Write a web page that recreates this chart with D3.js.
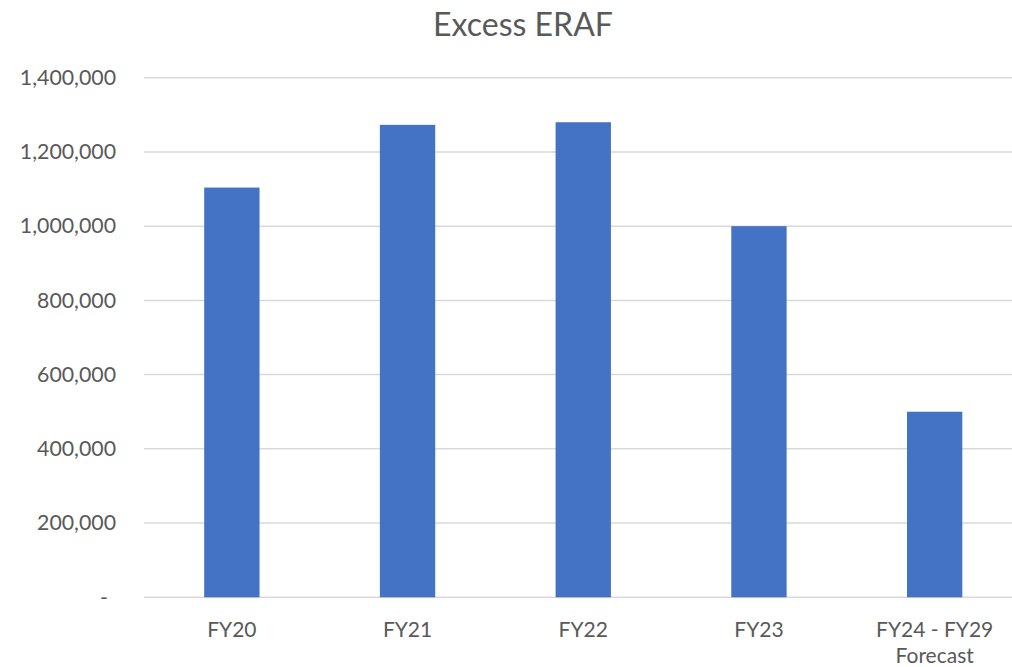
<!DOCTYPE html>
<html>
<head>
<meta charset="utf-8">
<script src="https://cdn.jsdelivr.net/npm/d3@7"></script>
<style>
  html, body { margin: 0; padding: 0; background: #fff; }
  svg { display: block; }
</style>
</head>
<body>
<script>
const categories = ["FY20", "FY21", "FY22", "FY23", "FY24 - FY29\nForecast"];
const values = [1104000, 1273000, 1280000, 1000000, 500000];
const tickValues = [0, 200000, 400000, 600000, 800000, 1000000, 1200000, 1400000];
const title = "Excess ERAF";

const W = 1012, H = 667;
const margin = { left: 144, right: -10.5, top: 77.7, bottom: 69.7 };
const font = "Lato, 'Open Sans', sans-serif";

const svg = d3.select("body").append("svg").attr("width", W).attr("height", H);

const x = d3.scaleBand().domain(categories)
  .range([margin.left, W - margin.right]).paddingInner(0.685).paddingOuter(0.3425);
const y = d3.scaleLinear().domain([0, 1400000]).range([H - margin.bottom, margin.top]);

// gridlines
svg.append("g").selectAll("line").data(tickValues).join("line")
  .attr("x1", margin.left).attr("x2", W - margin.right)
  .attr("y1", d => y(d)).attr("y2", d => y(d))
  .attr("stroke", "#d9d9d9").attr("stroke-width", 1.5);

// y axis labels
const yAxis = d3.axisLeft(y).tickValues(tickValues).tickSize(0).tickPadding(28)
  .tickFormat(d => d === 0 ? "-" : d3.format(",")(d));
const ya = svg.append("g").attr("transform", `translate(${margin.left},0)`).call(yAxis);
ya.select(".domain").remove();
ya.selectAll("text").attr("font-family", font).attr("font-size", 21.3).attr("fill", "#595959");
ya.selectAll(".tick").filter(d => d === 0).select("text").attr("dx", -8);

// bars
svg.append("g").selectAll("rect").data(values).join("rect")
  .attr("x", (d, i) => x(categories[i]))
  .attr("width", x.bandwidth())
  .attr("y", d => y(d))
  .attr("height", d => y(0) - y(d))
  .attr("fill", "#4472c4");

// x labels
const xl = svg.append("g").selectAll("text").data(categories).join("text")
  .attr("x", d => x(d) + x.bandwidth() / 2)
  .attr("y", 637)
  .attr("text-anchor", "middle")
  .attr("font-family", font).attr("font-size", 21).attr("fill", "#595959");
xl.each(function(d) {
  const lines = d.split("\n");
  const t = d3.select(this);
  lines.forEach((l, i) => t.append("tspan").attr("x", t.attr("x")).attr("dy", i === 0 ? 0 : 26).text(l));
});

// title
svg.append("text").attr("x", 523).attr("y", 36).attr("text-anchor", "middle")
  .attr("font-family", font).attr("font-size", 32).attr("fill", "#595959").text(title);
</script>
</body>
</html>
